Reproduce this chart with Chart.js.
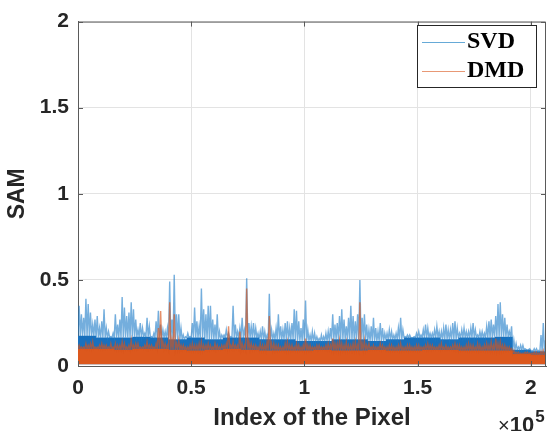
<!DOCTYPE html>
<html>
<head>
<meta charset="utf-8">
<script src="https://cdn.jsdelivr.net/npm/chart.js@4.4.1/dist/chart.umd.min.js"></script>
<style>
  html, body { margin: 0; padding: 0; background: #fff; }
</style>
</head>
<body>
<canvas id="chart" width="549" height="431"></canvas>
<script>
// one spike per 1000 pixels, one dense-band level per 8000 pixels
const binSize = 1000;
const bandSize = 8000;
const xMax = 206700;
const xTicks = [0, 50000, 100000, 150000, 200000];
const yTicks = [0, 0.5, 1, 1.5, 2];

const svdPeak = [
  0.35, 0.30, 0.28, 0.39, 0.36, 0.31, 0.24, 0.27, 0.29, 0.22,
  0.26, 0.33, 0.22, 0.20, 0.17, 0.19, 0.30, 0.24, 0.27, 0.40,
  0.34, 0.29, 0.31, 0.37, 0.33, 0.27, 0.21, 0.25, 0.22, 0.19,
  0.28, 0.23, 0.17, 0.19, 0.26, 0.32, 0.24, 0.21, 0.20, 0.22,
  0.49, 0.27, 0.53, 0.30, 0.30, 0.22, 0.18, 0.17, 0.19, 0.17,
  0.25, 0.34, 0.26, 0.23, 0.45, 0.33, 0.30, 0.35, 0.35, 0.27,
  0.24, 0.30, 0.20, 0.18, 0.18, 0.21, 0.19, 0.17, 0.35, 0.24,
  0.20, 0.22, 0.28, 0.21, 0.51, 0.25, 0.23, 0.25, 0.22, 0.19,
  0.20, 0.23, 0.20, 0.18, 0.42, 0.21, 0.19, 0.22, 0.30, 0.23,
  0.21, 0.25, 0.26, 0.22, 0.25, 0.33, 0.32, 0.26, 0.22, 0.27,
  0.38, 0.21, 0.18, 0.20, 0.19, 0.17, 0.16, 0.18, 0.17, 0.19,
  0.20, 0.22, 0.30, 0.24, 0.25, 0.29, 0.33, 0.27, 0.23, 0.28,
  0.35, 0.29, 0.26, 0.30, 0.50, 0.28, 0.30, 0.24, 0.21, 0.23,
  0.28, 0.22, 0.20, 0.25, 0.22, 0.19, 0.19, 0.21, 0.20, 0.18,
  0.19, 0.22, 0.28, 0.21, 0.17, 0.18, 0.18, 0.16, 0.17, 0.19,
  0.20, 0.18, 0.21, 0.24, 0.22, 0.19, 0.19, 0.21, 0.23, 0.20,
  0.20, 0.22, 0.24, 0.21, 0.21, 0.25, 0.26, 0.22, 0.19, 0.21,
  0.22, 0.20, 0.20, 0.22, 0.25, 0.21, 0.18, 0.20, 0.20, 0.19,
  0.23, 0.26, 0.27, 0.24, 0.29, 0.36, 0.37, 0.30, 0.28, 0.24,
  0.20, 0.23, 0.15, 0.13, 0.11, 0.12, 0.12, 0.10, 0.09, 0.10,
  0.09, 0.10, 0.10, 0.09, 0.18, 0.25, 0.15
];
const svdBand = [
  0.175, 0.165, 0.165, 0.17, 0.165, 0.155, 0.165, 0.155, 0.165, 0.165, 0.155, 0.155, 0.145,
  0.145, 0.155, 0.155, 0.145, 0.155, 0.165, 0.165, 0.155, 0.165, 0.165, 0.17, 0.095, 0.085
];
const dmdPeak = [
  0.12, 0.11, 0.11, 0.13, 0.12, 0.13, 0.14, 0.11, 0.11, 0.12,
  0.13, 0.12, 0.12, 0.11, 0.13, 0.11, 0.13, 0.12, 0.12, 0.14,
  0.13, 0.11, 0.12, 0.15, 0.12, 0.13, 0.13, 0.11, 0.11, 0.12,
  0.14, 0.12, 0.12, 0.11, 0.13, 0.22, 0.32, 0.14, 0.13, 0.12,
  0.37, 0.15, 0.30, 0.13, 0.15, 0.12, 0.12, 0.11, 0.11, 0.12,
  0.13, 0.12, 0.12, 0.13, 0.14, 0.12, 0.12, 0.13, 0.12, 0.11,
  0.13, 0.12, 0.11, 0.12, 0.12, 0.13, 0.23, 0.12, 0.14, 0.12,
  0.12, 0.20, 0.13, 0.12, 0.45, 0.14, 0.13, 0.12, 0.12, 0.11,
  0.13, 0.12, 0.12, 0.14, 0.29, 0.13, 0.13, 0.12, 0.12, 0.11,
  0.11, 0.13, 0.14, 0.12, 0.12, 0.11, 0.13, 0.12, 0.11, 0.12,
  0.16, 0.12, 0.12, 0.11, 0.11, 0.12, 0.12, 0.11, 0.11, 0.12,
  0.13, 0.12, 0.16, 0.13, 0.13, 0.15, 0.13, 0.12, 0.14, 0.12,
  0.12, 0.13, 0.14, 0.12, 0.37, 0.13, 0.15, 0.12, 0.13, 0.11,
  0.12, 0.11, 0.11, 0.13, 0.12, 0.11, 0.11, 0.12, 0.12, 0.11,
  0.11, 0.12, 0.13, 0.11, 0.11, 0.12, 0.12, 0.11, 0.11, 0.12,
  0.12, 0.11, 0.11, 0.12, 0.13, 0.12, 0.12, 0.11, 0.11, 0.12,
  0.13, 0.11, 0.12, 0.11, 0.11, 0.12, 0.13, 0.12, 0.12, 0.11,
  0.11, 0.12, 0.13, 0.12, 0.12, 0.11, 0.13, 0.12, 0.11, 0.12,
  0.13, 0.12, 0.14, 0.12, 0.16, 0.13, 0.14, 0.12, 0.12, 0.11,
  0.11, 0.10, 0.09, 0.08, 0.08, 0.075, 0.075, 0.08, 0.08, 0.075,
  0.075, 0.08, 0.08, 0.075, 0.085, 0.09, 0.08
];
const dmdBand = [
  0.10, 0.10, 0.095, 0.10, 0.10, 0.095, 0.09, 0.095, 0.10, 0.095, 0.09, 0.09, 0.09,
  0.095, 0.09, 0.09, 0.095, 0.09, 0.09, 0.095, 0.095, 0.09, 0.09, 0.09, 0.07, 0.065
];

const svdColor = 'rgba(30,125,200,0.62)';
const dmdColor = 'rgba(217,83,25,0.65)';

// spikes: go up to the peak of each bin and back down to the band level
function spikes(peaks, band) {
  const pts = [];
  peaks.forEach((p, i) => {
    const x0 = i * binSize;
    const b = band[Math.floor(x0 / bandSize)];
    pts.push({ x: x0, y: b });
    pts.push({ x: x0 + binSize / 2, y: p });
  });
  const last = Math.min(peaks.length * binSize, xMax);
  pts.push({ x: last, y: band[Math.floor((last - 1) / bandSize)] });
  return pts;
}

// dense part of the signal as flat steps
function bandPoints(band) {
  const pts = [];
  band.forEach((b, i) => {
    pts.push({ x: i * bandSize, y: b });
    pts.push({ x: Math.min((i + 1) * bandSize, xMax), y: b });
  });
  return pts;
}

const matlabBox = {
  id: 'matlabBox',
  afterDatasetsDraw(chart) {
    const { ctx, chartArea: a, scales } = chart;
    ctx.save();
    ctx.strokeStyle = '#5a5a5a';
    ctx.lineWidth = 1;
    ctx.beginPath();
    ctx.moveTo(a.left, a.top + 0.5);
    ctx.lineTo(a.right - 0.5, a.top + 0.5);
    ctx.lineTo(a.right - 0.5, a.bottom);
    ctx.stroke();
    // inward ticks
    ctx.beginPath();
    xTicks.forEach(v => {
      const x = Math.round(scales.x.getPixelForValue(v)) + 0.5;
      ctx.moveTo(x, a.bottom); ctx.lineTo(x, a.bottom - 5);
      ctx.moveTo(x, a.top); ctx.lineTo(x, a.top + 5);
    });
    yTicks.forEach(v => {
      const y = Math.round(scales.y.getPixelForValue(v)) + 0.5;
      ctx.moveTo(a.left, y); ctx.lineTo(a.left + 5, y);
      ctx.moveTo(a.right, y); ctx.lineTo(a.right - 5, y);
    });
    ctx.stroke();
    ctx.restore();
  },
  afterDraw(chart) {
    const { ctx } = chart;
    ctx.save();
    // legend
    ctx.fillStyle = '#fff';
    ctx.fillRect(417.5, 25.5, 119, 62);
    ctx.strokeStyle = '#262626';
    ctx.lineWidth = 1;
    ctx.strokeRect(417.5, 25.5, 119, 62);
    const items = [
      { label: chart.data.datasets[1].label, color: 'rgba(0,114,189,0.6)', y: 42 },
      { label: chart.data.datasets[3].label, color: 'rgba(217,83,25,0.6)', y: 71 }
    ];
    ctx.font = 'bold 24px "Liberation Serif", "Times New Roman", serif';
    ctx.textBaseline = 'middle';
    items.forEach(it => {
      ctx.strokeStyle = it.color;
      ctx.beginPath();
      ctx.moveTo(422, it.y + 0.5);
      ctx.lineTo(465, it.y + 0.5);
      ctx.stroke();
      ctx.fillStyle = '#000';
      ctx.fillText(it.label, 467, it.y);
    });
    // x10^5 exponent label
    ctx.fillStyle = '#262626';
    ctx.textBaseline = 'alphabetic';
    let x = 498;
    ctx.font = '20px "Liberation Sans", Arial, sans-serif';
    ctx.fillText('×', x, 432);
    x += ctx.measureText('×').width;
    ctx.font = 'bold 22px "Liberation Sans", Arial, sans-serif';
    ctx.fillText('10', x, 432);
    x += ctx.measureText('10').width + 1;
    ctx.font = 'bold 17px "Liberation Sans", Arial, sans-serif';
    ctx.fillText('5', x, 422);
    ctx.restore();
  }
};

const tickFont = { family: '"Liberation Sans", Arial, sans-serif', weight: 'bold', size: 21 };

new Chart(document.getElementById('chart').getContext('2d'), {
  type: 'line',
  data: {
    datasets: [
      {
        label: 'SVD band',
        data: bandPoints(svdBand),
        borderWidth: 0,
        pointRadius: 0,
        backgroundColor: '#1870bd',
        fill: { value: 0.01 },
        order: 4
      },
      {
        label: 'SVD',
        data: spikes(svdPeak, svdBand),
        borderColor: svdColor,
        borderWidth: 1.4,
        pointRadius: 0,
        fill: false,
        order: 3
      },
      {
        label: 'DMD band',
        data: bandPoints(dmdBand),
        borderWidth: 0,
        pointRadius: 0,
        backgroundColor: '#dc581d',
        fill: { value: 0.01 },
        order: 2
      },
      {
        label: 'DMD',
        data: spikes(dmdPeak, dmdBand),
        borderColor: dmdColor,
        borderWidth: 1.4,
        pointRadius: 0,
        fill: false,
        order: 1
      }
    ]
  },
  options: {
    responsive: false,
    animation: false,
    layout: { padding: { top: 15, right: 3, left: 0, bottom: 0 } },
    plugins: {
      legend: { display: false },
      tooltip: { enabled: false }
    },
    scales: {
      x: {
        type: 'linear',
        min: 0,
        max: xMax,
        afterBuildTicks: scale => { scale.ticks = xTicks.map(v => ({ value: v })); },
        afterFit: scale => { scale.height = 65; },
        ticks: {
          callback: v => String(v / 100000),
          font: tickFont,
          color: '#262626',
          padding: 10,
          maxRotation: 0,
          autoSkip: false
        },
        grid: { color: '#e3e3e3', drawTicks: false },
        border: { color: '#5a5a5a' },
        title: {
          display: true,
          text: 'Index of the Pixel',
          font: { family: '"Liberation Sans", Arial, sans-serif', weight: 'bold', size: 24, lineHeight: 1 },
          color: '#262626',
          padding: { top: 0, bottom: 1 }
        }
      },
      y: {
        min: 0,
        max: 2,
        afterBuildTicks: scale => { scale.ticks = yTicks.map(v => ({ value: v })); },
        afterFit: scale => { scale.width = 78; },
        ticks: {
          callback: v => String(v),
          font: tickFont,
          color: '#262626',
          padding: 9
        },
        grid: { color: '#e3e3e3', drawTicks: false },
        border: { color: '#5a5a5a' },
        title: {
          display: true,
          text: 'SAM',
          font: { family: '"Liberation Sans", Arial, sans-serif', weight: 'bold', size: 23, lineHeight: 1 },
          color: '#262626',
          padding: { top: 6, bottom: 0 }
        }
      }
    }
  },
  plugins: [matlabBox]
});
</script>
</body>
</html>
